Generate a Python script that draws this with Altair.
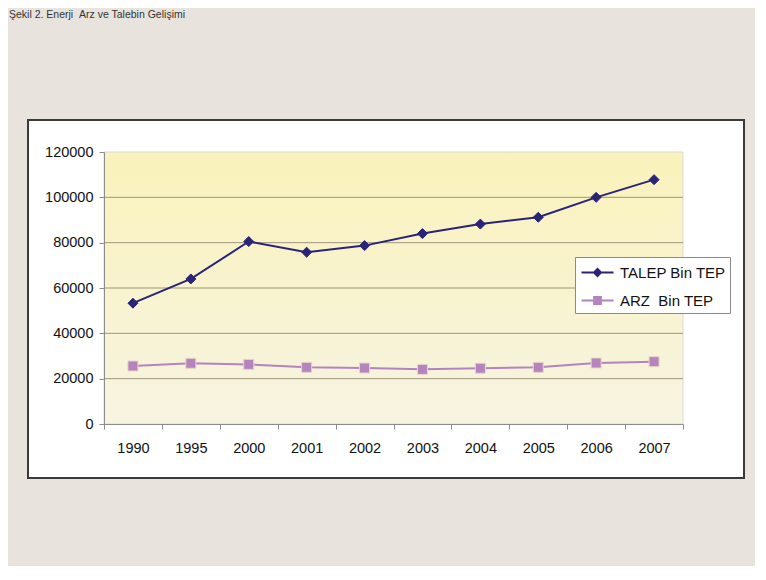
import altair as alt
import pandas as pd

years = ["1990", "1995", "2000", "2001", "2002", "2003", "2004", "2005", "2006", "2007"]
talep = [53300, 64000, 80500, 75800, 78700, 84000, 88200, 91200, 100000, 107800]
arz = [25600, 26800, 26300, 25000, 24700, 24100, 24600, 25000, 26900, 27500]
series_names = ["TALEP Bin TEP", "ARZ \u00a0Bin TEP"]
grid_values = [20000, 40000, 60000, 80000, 100000]
y_ticks = [0, 20000, 40000, 60000, 80000, 100000, 120000]
title_text = "Şekil 2. Enerji \u00a0Arz ve Talebin Gelişimi"

line_colors = ["#2a2378", "#b484be"]
marker_outline = ["#2a2378", "#ecd3c4"]
FONT = "Liberation Sans"

W, H = 579, 272

rows = []
for name, vals in zip(series_names, [talep, arz]):
    for yr, v in zip(years, vals):
        rows.append({"year": yr, "value": v, "series": name})
df = pd.DataFrame(rows)

diamond_path = "M-1.6,0H1.6M0,-0.34L0.34,0L0,0.34L-0.34,0Z"
square_path = "M-1.6,0H1.6M-0.33,-0.33H0.33V0.33H-0.33Z"

legend = alt.Legend(
    title=None, orient="none", legendX=471, legendY=105,
    fillColor="white", strokeColor="#8a8a8a", padding=4,
    symbolSize=400, symbolOffset=7, labelOffset=11, rowPadding=8,
    labelFontSize=15, labelFont=FONT, labelColor="#111",
    symbolStrokeWidth=2.2, symbolOpacity=1,
)

x_axis = alt.Axis(title=None, labelAngle=0, tickBand="extent", grid=False, zindex=1,
                  domainColor="#8c8c8c", tickColor="#8c8c8c", tickSize=5,
                  labelPadding=12, labelFontSize=14.5, labelFont=FONT, labelColor="#111")
y_axis = alt.Axis(title=None, values=y_ticks, format="d", grid=False, zindex=1,
                  domainColor="#8c8c8c", tickColor="#8c8c8c", tickSize=5,
                  labelPadding=6, labelFontSize=14.5, labelFont=FONT, labelColor="#111")

x_scale = alt.Scale(type="band", paddingInner=0, paddingOuter=0)
y_scale = alt.Scale(domain=[0, 120000], nice=False)
x_enc = alt.X("year:O", sort=years, scale=x_scale, axis=x_axis)
y_enc = alt.Y("value:Q", scale=y_scale, axis=y_axis)
color_enc = alt.Color("series:N", scale=alt.Scale(domain=series_names, range=line_colors), legend=None)

one = pd.DataFrame({"t": [title_text]})

frame = alt.Chart(one).mark_rect(fill="white", stroke="#3a3a3a", strokeWidth=2).encode(
    x=alt.value(-76), x2=alt.value(640), y=alt.value(-32), y2=alt.value(326))

bg = alt.Chart(one).mark_rect(
    fill=alt.Gradient(gradient="linear", x1=0, x2=0, y1=0, y2=1,
                      stops=[alt.GradientStop(color="#faf2bb", offset=0),
                             alt.GradientStop(color="#f7f4e2", offset=1)]),
    stroke="#dadada", strokeWidth=1,
).encode(x=alt.value(0), x2=alt.value(W), y=alt.value(0), y2=alt.value(H))

grid = alt.Chart(pd.DataFrame({"value": grid_values})).mark_rule(color="#9c977c", strokeWidth=1).encode(
    y=y_enc)

lines = alt.Chart(df).mark_line(strokeWidth=2).encode(x=x_enc, y=y_enc, color=color_enc)

points = alt.Chart(df).mark_point(filled=True, size=100, opacity=1, strokeWidth=1).encode(
    x=x_enc, y=y_enc, color=color_enc,
    shape=alt.Shape("series:N", scale=alt.Scale(domain=series_names, range=["diamond", "square"]), legend=None),
    stroke=alt.Stroke("series:N", scale=alt.Scale(domain=series_names, range=marker_outline), legend=None),
)

# legend-only layer (no visible marks): line + marker symbols per series
legend_layer = alt.Chart(df).transform_filter("datum.value < 0").mark_point(
    opacity=1, strokeWidth=2).encode(
    x=x_enc, y=y_enc,
    fill=alt.Fill("series:N", scale=alt.Scale(domain=series_names, range=line_colors), legend=legend),
    stroke=alt.Stroke("series:N", scale=alt.Scale(domain=series_names, range=line_colors), legend=legend),
    shape=alt.Shape("series:N", scale=alt.Scale(domain=series_names, range=[diamond_path, square_path]), legend=legend),
)

title = alt.Chart(one).mark_text(align="left", baseline="alphabetic", fontSize=10.5, font=FONT,
                                  color="#333333").encode(
    text="t:N", x=alt.value(-95), y=alt.value(-134))

chart = alt.layer(frame, bg, grid, lines, points, legend_layer, title).resolve_scale(
    shape="independent", fill="independent", stroke="independent"
).properties(
    width=W, height=H,
    autosize=alt.AutoSizeParams(type="none"),
    padding={"left": 96, "top": 144, "right": 72, "bottom": 142},
    background="#e8e4dd",
).configure_view(stroke=None)

chart.save("out.html", embed_options={"renderer": "svg", "actions": False})
